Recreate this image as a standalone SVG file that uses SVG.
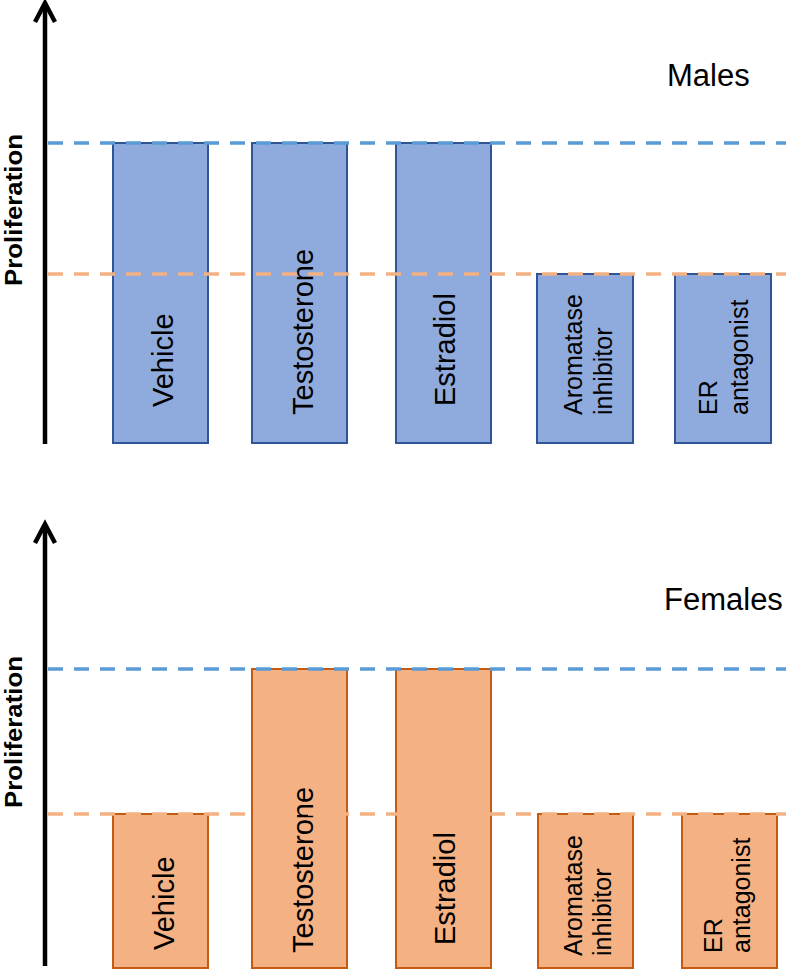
<svg xmlns="http://www.w3.org/2000/svg" width="786" height="970" viewBox="0 0 786 970">
<style>
.axis{stroke:#000;stroke-width:4.5;fill:none}
.bb{fill:#8FAADC;stroke:#2F5597;stroke-width:2}
.ob{fill:#F4B183;stroke:#C55A11;stroke-width:2}
.bl{stroke:#5B9BD5;stroke-width:3.5;stroke-dasharray:15 11;fill:none}
.ol{stroke:#F4B183;stroke-width:3.5;stroke-dasharray:15 11;fill:none}
.lab{font-family:"Liberation Sans",Arial,sans-serif;font-size:29px;fill:#000}
.sm{font-family:"Liberation Sans",Arial,sans-serif;font-size:25px;fill:#000}
.ylab{font-family:"Liberation Sans",Arial,sans-serif;font-size:24px;font-weight:bold;fill:#000}
.ttl{font-family:"Liberation Sans",Arial,sans-serif;font-size:31px;fill:#000}
</style>
<rect width="786" height="970" fill="#fff"/>
<g id="males">
  <g id="m-axis">
    <path class="axis" d="M45,444 V4"/>
    <path class="axis" d="M35,22 L45,3 L55,22"/>
    <text class="ylab" text-anchor="middle" textLength="152" lengthAdjust="spacingAndGlyphs" transform="translate(22,210) rotate(-90)">Proliferation</text>
  </g>
  <text id="m-title" class="ttl" x="667" y="86">Males</text>
  <g id="m-vehicle"><rect class="bb" x="113" y="143" width="95" height="300"/><text class="lab" transform="translate(173,407) rotate(-90)">Vehicle</text></g>
  <g id="m-testosterone"><rect class="bb" x="252" y="143" width="95" height="300"/><text class="lab" transform="translate(313,415) rotate(-90)">Testosterone</text></g>
  <g id="m-estradiol"><rect class="bb" x="396" y="143" width="95" height="300"/><text class="lab" transform="translate(455,406) rotate(-90)">Estradiol</text></g>
  <g id="m-aromatase"><rect class="bb" x="537" y="274" width="96" height="169"/><text class="sm" transform="translate(582,415) rotate(-90)">Aromatase</text><text class="sm" transform="translate(612,415) rotate(-90)">inhibitor</text></g>
  <g id="m-er"><rect class="bb" x="675" y="274" width="96" height="169"/><text class="sm" transform="translate(717,415) rotate(-90)">ER</text><text class="sm" transform="translate(748,415) rotate(-90)">antagonist</text></g>
</g>
<g id="females">
  <g id="f-axis">
    <path class="axis" d="M45,966 V526"/>
    <path class="axis" d="M35,543 L45,524 L55,543"/>
    <text class="ylab" text-anchor="middle" textLength="152" lengthAdjust="spacingAndGlyphs" transform="translate(22,732) rotate(-90)">Proliferation</text>
  </g>
  <text id="f-title" class="ttl" x="664" y="610">Females</text>
  <g id="f-vehicle"><rect class="ob" x="113" y="814" width="95" height="154"/><text class="lab" transform="translate(174,950) rotate(-90)">Vehicle</text></g>
  <g id="f-testosterone"><rect class="ob" x="252" y="669" width="95" height="299"/><text class="lab" transform="translate(313,953) rotate(-90)">Testosterone</text></g>
  <g id="f-estradiol"><rect class="ob" x="396" y="669" width="95" height="299"/><text class="lab" transform="translate(455,945) rotate(-90)">Estradiol</text></g>
  <g id="f-aromatase"><rect class="ob" x="538" y="814" width="95" height="154"/><text class="sm" transform="translate(582,956) rotate(-90)">Aromatase</text><text class="sm" transform="translate(611,956) rotate(-90)">inhibitor</text></g>
  <g id="f-er"><rect class="ob" x="682" y="814" width="95" height="154"/><text class="sm" transform="translate(722,953) rotate(-90)">ER</text><text class="sm" transform="translate(750,953) rotate(-90)">antagonist</text></g>
</g>
<g id="connectors">
  <path class="bl" d="M48,143 H786"/>
  <path class="ol" d="M48,274 H786"/>
  <path class="bl" d="M48,669 H786"/>
  <path class="ol" d="M48,814 H786"/>
</g>
</svg>
